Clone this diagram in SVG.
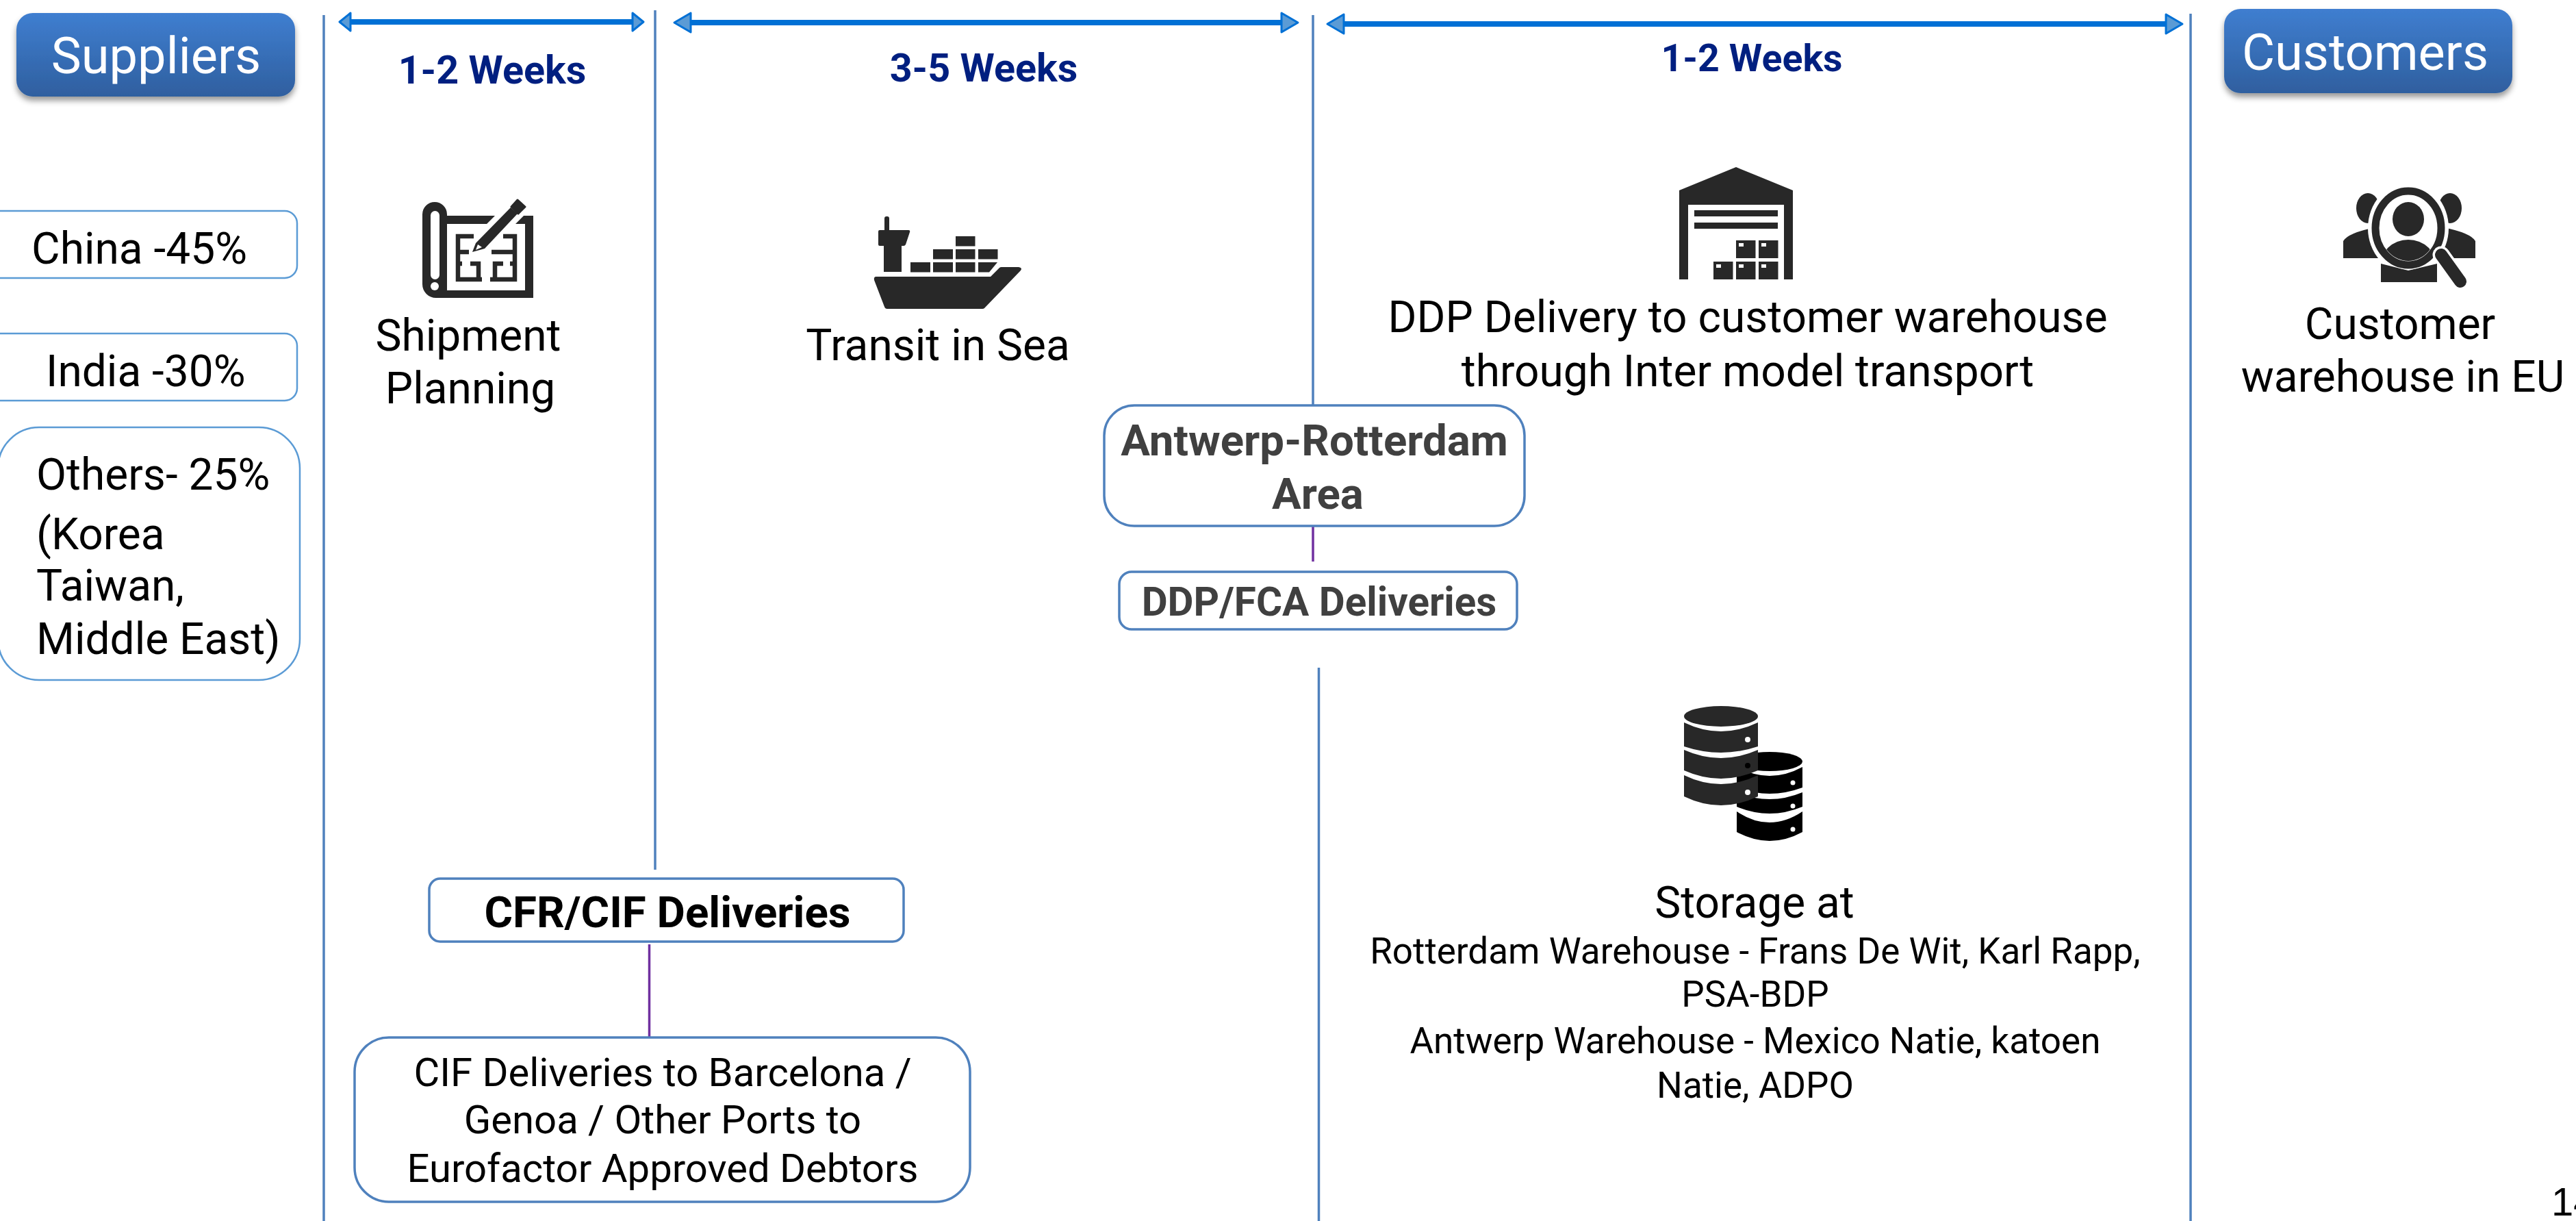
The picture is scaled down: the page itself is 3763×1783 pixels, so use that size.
<svg xmlns="http://www.w3.org/2000/svg" width="3763" height="1783" viewBox="0 0 3763 1783">
<style>
text{font-family:Roboto,"Liberation Sans",sans-serif;fill:#000}
.m{text-anchor:middle}
.t{font-size:64px}
.s{font-size:53px}
.c{font-size:58px}
.h{font-size:74px;fill:#fff}
.w{font-size:57.500px;font-weight:700;fill:#001f80}
.b{font-size:63.600px;font-weight:700;fill:#404040}
.k{fill:#282828}
.box{fill:#fff;stroke:#4f81bd;stroke-width:3.500}
.lite{fill:#fff;stroke:#5b9bd5;stroke-width:2.500}
.v{fill:none;stroke:#4f81bd;stroke-width:3.500}
.p{fill:none;stroke:#7030a0;stroke-width:3.500}
.arrow{fill:none;stroke:#0070d5;stroke-width:8}
.hd{fill:#5b9bd5;stroke:#0070d5;stroke-width:3;stroke-linejoin:round}
</style>
<defs>
<linearGradient id="g" x1="0" y1="0" x2="0" y2="1"><stop offset="0" stop-color="#3f7ed0"/><stop offset="1" stop-color="#2f5f9f"/></linearGradient>
<filter id="sh" x="-5%" y="-10%" width="110%" height="125%"><feDropShadow dx="0" dy="6" stdDeviation="4" flood-color="#000" flood-opacity=".4"/></filter>
<marker id="a1" markerUnits="userSpaceOnUse" markerWidth="24" markerHeight="36" refX="1" refY="18" orient="auto-start-reverse"><path class="hd" d="M2 5 L18 18 L2 31Z"/></marker>
<marker id="a2" markerUnits="userSpaceOnUse" markerWidth="34" markerHeight="36" refX="1" refY="18" orient="auto-start-reverse"><path class="hd" d="M2 4 L26 18 L2 32Z"/></marker>
<clipPath id="lens"><ellipse cx="3518" cy="333" rx="42" ry="48"/></clipPath>
</defs>
<rect width="3763" height="1783" fill="#fff"/>
<g id="connectors">
<path class="v" d="M473 22V1783"/>
<path class="v" d="M957 15V1270"/>
<path class="v" d="M1918 22V592"/>
<path class="v" d="M1926.500 975V1783"/>
<path class="v" d="M3200 20V1783"/>
<path class="p" d="M1918 768V820"/>
<path class="p" d="M948.500 1379V1515"/>
<path class="arrow" d="M513 32H923" marker-start="url(#a1)" marker-end="url(#a1)"/>
<path class="arrow" d="M1010 33H1871" marker-start="url(#a2)" marker-end="url(#a2)"/>
<path class="arrow" d="M1964 35H3163" marker-start="url(#a2)" marker-end="url(#a2)"/>
</g>
<g id="suppliers"><rect x="24" y="19" width="407" height="122" rx="24" fill="url(#g)" filter="url(#sh)"/><text class="h m" x="228" y="107">Suppliers</text></g>
<g id="customers"><rect x="3249" y="13" width="421" height="123" rx="24" fill="url(#g)" filter="url(#sh)"/><text class="h m" x="3455" y="102">Customers</text></g>
<g id="duration-1"><text class="w m" x="719" y="122">1-2 Weeks</text></g>
<g id="duration-2"><text class="w m" x="1437" y="119">3-5 Weeks</text></g>
<g id="duration-3"><text class="m" x="2559" y="104" style="font-size:55.500px;font-weight:700;fill:#001f80">1-2 Weeks</text></g>
<g id="china"><rect class="lite" x="-20" y="308" width="454" height="98" rx="18"/><text class="t" x="46" y="385">China -45%</text></g>
<g id="india"><rect class="lite" x="-20" y="487" width="454" height="98" rx="18"/><text class="t" x="67" y="564">India -30%</text></g>
<g id="others"><rect class="lite" x="-3" y="624" width="441" height="369" rx="60"/>
<text class="t" x="53" y="715">Others- 25%</text><text class="t" x="53" y="802">(Korea</text><text class="t" x="53" y="877">Taiwan,</text><text class="t" x="53" y="955">Middle East)</text></g>
<g id="shipment-planning">
<path class="k" d="M617 313a18 18 0 0 1 36 0V315H723L711 327H653V424H767V327H753L765 315H779V435H637a20 20 0 0 1-20-20Z"/>
<rect x="629" y="308" width="13" height="100" rx="6.500" fill="#fff"/><circle cx="635" cy="418" r="6" fill="#fff"/>
<path d="M692 345H669V408H704M669 368H685M669 385H675M687 385H699V408M735 345H752V408H716M718 368H752M752 385H745M735 385H723V408" fill="none" stroke="#282828" stroke-width="6.500"/>
<path d="M690 368 695 355 746 303 756 312 708 363Z" fill="#282828" stroke="#fff" stroke-width="9" paint-order="stroke" stroke-linejoin="round"/>
<path d="M695 365 698 357 704 361Z" fill="#fff"/>
<path class="k" d="M747 302 756 292 767 302 757 312Z" stroke="#282828" stroke-width="3" stroke-linejoin="round"/>
<text class="t m" x="684" y="512">Shipment</text><text class="t m" x="687" y="589">Planning</text></g>
<g id="transit">
<g class="k"><rect x="1292" y="316" width="7" height="24" rx="3"/><path d="M1285 336H1327Q1330 336 1329 339L1323 357Q1322 359 1320 359H1317V397H1291V359H1285Q1283 359 1283 357V338Q1283 336 1285 336Z"/>
<rect x="1330" y="383" width="29" height="14.500"/><rect x="1363" y="383" width="29" height="14.500"/><rect x="1396" y="383" width="28.500" height="14.500"/><path d="M1429 383H1457L1445 397.500H1429Z"/>
<rect x="1363" y="364" width="29" height="14.500"/><rect x="1396" y="364" width="28.500" height="14.500"/><rect x="1429" y="364" width="28.500" height="14.500"/><rect x="1396" y="345" width="28.500" height="14.500"/>
<path d="M1280 404H1447L1460 391Q1461 390 1463 390H1488Q1494 391 1491 395L1438 450Q1437 451 1435 451H1296Q1293 451 1292 448L1277 409Q1276 404 1280 404Z"/></g>
<text class="t m" x="1370" y="526">Transit in Sea</text></g>
<g id="ddp-delivery">
<g class="k"><path fill-rule="evenodd" d="M2536 244 2619 278V408H2606V299H2466V408H2453V278Z"/>
<rect x="2475" y="307" width="122" height="9"/><rect x="2475" y="325" width="122" height="9"/>
<rect x="2536" y="351" width="28.500" height="26"/><rect x="2569" y="351" width="28.500" height="26"/><rect x="2503" y="382" width="28.500" height="26"/><rect x="2536" y="382" width="28.500" height="26"/><rect x="2569" y="382" width="28.500" height="26"/></g>
<g fill="#fff"><rect x="2540" y="355" width="7" height="5"/><rect x="2573" y="355" width="7" height="5"/><rect x="2507" y="386" width="7" height="5"/><rect x="2540" y="386" width="7" height="5"/><rect x="2573" y="386" width="7" height="5"/></g>
<text class="t m" x="2553" y="485">DDP Delivery to customer warehouse</text><text class="t m" x="2553" y="564">through Inter model transport</text></g>
<g id="customer-warehouse">
<g class="k"><ellipse cx="3459" cy="304" rx="17" ry="22"/><ellipse cx="3579" cy="304" rx="17" ry="22"/>
<path d="M3423 377V352Q3430 340 3470 332L3490 377Z"/><path d="M3616 377V352Q3609 340 3569 332L3549 377Z"/></g>
<ellipse cx="3518" cy="333" rx="59" ry="66" fill="#fff"/>
<path class="k" d="M3478 412V385L3518 395 3560 385V412Z"/>
<path d="M3478 372Q3518 410 3558 372" fill="none" stroke="#fff" stroke-width="5"/>
<ellipse cx="3518" cy="333" rx="48" ry="54" fill="#fff" stroke="#282828" stroke-width="11"/>
<ellipse class="k" cx="3518" cy="320" rx="23" ry="25"/>
<g clip-path="url(#lens)"><ellipse class="k" cx="3518" cy="390" rx="42" ry="40"/></g>
<path d="M3566 372 3594 411" stroke="#fff" stroke-width="25" stroke-linecap="round"/>
<path d="M3566 372 3594 411" stroke="#282828" stroke-width="18" stroke-linecap="round"/>
<text class="t m" x="3506" y="495">Customer</text><text class="t m" x="3510" y="572">warehouse in EU</text></g>
<g id="antwerp-rotterdam"><rect class="box" x="1613" y="592" width="614" height="176" rx="44"/><text class="b m" x="1920" y="665">Antwerp-Rotterdam</text><text class="b m" x="1925" y="743">Area</text></g>
<g id="ddp-fca"><rect class="box" x="1635" y="835" width="581" height="84" rx="18"/><text class="m" x="1927" y="899" style="font-size:58.400px;font-weight:700;fill:#404040">DDP/FCA Deliveries</text></g>
<g id="storage">
<g fill="#000"><ellipse cx="2585" cy="1112" rx="48" ry="14"/>
<path d="M2537 1120Q2585 1146 2633 1120V1150Q2585 1168 2537 1150Z"/><path d="M2537 1157Q2585 1177 2633 1157V1178Q2585 1198 2537 1178Z"/><path d="M2537 1185Q2585 1217 2633 1185V1215Q2585 1241 2537 1215Z"/></g>
<g class="k"><ellipse cx="2514" cy="1046" rx="54" ry="15"/>
<path d="M2460 1055Q2514 1081 2568 1055V1090Q2514 1108 2460 1090Z"/><path d="M2460 1095Q2514 1119 2568 1095V1125Q2514 1149 2460 1125Z"/><path d="M2460 1132Q2514 1158 2568 1132V1163Q2514 1189 2460 1163Z"/></g>
<g fill="#fff"><circle cx="2553" cy="1080" r="4"/><circle cx="2553" cy="1157" r="4"/><circle cx="2619" cy="1143" r="3.500"/><circle cx="2619" cy="1177" r="3.500"/><circle cx="2619" cy="1211" r="3.500"/></g><circle cx="2553" cy="1118" r="4" fill="#000"/>
<text class="t m" x="2563" y="1340">Storage at</text>
<text class="s m" x="2564" y="1407">Rotterdam Warehouse - Frans De Wit, Karl Rapp,</text>
<text class="s m" x="2564" y="1470">PSA-BDP</text>
<text class="s m" x="2564" y="1538">Antwerp Warehouse - Mexico Natie, katoen</text>
<text class="s m" x="2564" y="1603">Natie, ADPO</text></g>
<g id="cfr-cif"><rect class="box" x="627" y="1283" width="693" height="92" rx="16"/><text class="m" x="975" y="1354" style="font-size:63.700px;font-weight:700">CFR/CIF Deliveries</text></g>
<g id="cif-deliveries"><rect class="box" x="518" y="1515" width="899" height="240" rx="50"/>
<text class="c m" x="968" y="1586">CIF Deliveries to Barcelona /</text><text class="c m" x="968" y="1655">Genoa / Other Ports to</text><text class="c m" x="968" y="1726">Eurofactor Approved Debtors</text></g>
<g id="page-number"><text x="3727" y="1775" style="font-family:'Liberation Sans',sans-serif;font-size:58px">14</text></g>
</svg>
